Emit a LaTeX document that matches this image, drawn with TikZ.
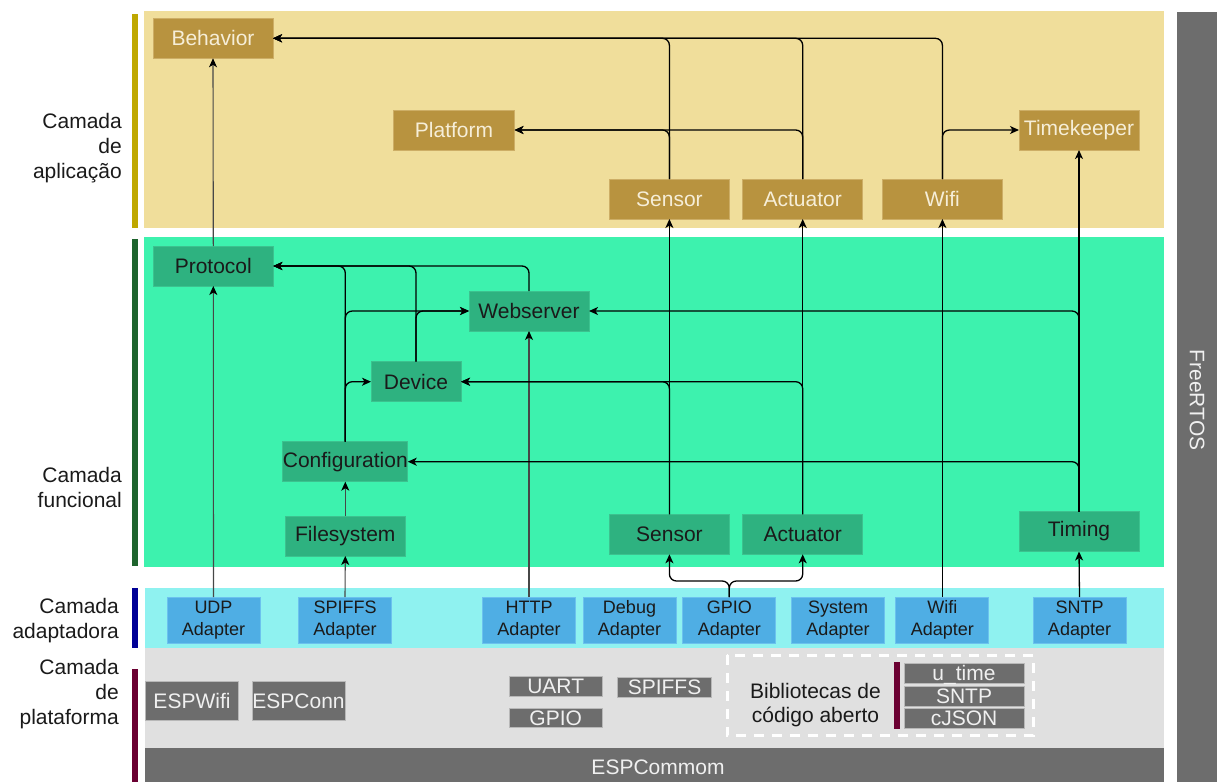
\documentclass[tikz,border=0pt]{standalone}
\usepackage{fontspec}
\setmainfont{Liberation Sans}
\usetikzlibrary{arrows.meta}

\definecolor{appbg}{HTML}{F0DE9B}
\definecolor{appbox}{HTML}{B8933F}
\definecolor{appline}{HTML}{CDAE66}
\definecolor{apptext}{HTML}{F6EED8}
\definecolor{funcbg}{HTML}{3DF2AE}
\definecolor{funcbox}{HTML}{2EB280}
\definecolor{funcline}{HTML}{3CC28F}
\definecolor{adbg}{HTML}{8FF2F0}
\definecolor{adbox}{HTML}{4FAEE4}
\definecolor{adline}{HTML}{6CC2EE}
\definecolor{platbg}{HTML}{E0E0E0}
\definecolor{platdark}{HTML}{6D6D6D}
\definecolor{platline}{HTML}{B8B8B8}
\definecolor{lighttext}{HTML}{F0F0F0}
\definecolor{darktext}{HTML}{1A1A1A}
\definecolor{barapp}{HTML}{BFA800}
\definecolor{barfunc}{HTML}{1E642D}
\definecolor{barad}{HTML}{000096}
\definecolor{barplat}{HTML}{6B0032}

\tikzset{
  box/.style={rectangle, inner sep=0pt, outer sep=0pt, line width=1pt,
    font=\fontsize{21}{25}\selectfont},
  appnode/.style={box, fill=appbox, draw=appline, text=apptext,
    minimum width=120, minimum height=40},
  funcnode/.style={box, fill=funcbox, draw=funcline, text=darktext,
    minimum width=120, minimum height=40},
  adnode/.style={box, fill=adbox, draw=adline, text=darktext, align=center,
    minimum width=93, minimum height=46, font=\fontsize{18}{22}\selectfont},
  platnode/.style={box, fill=platdark, draw=platline, text=lighttext},
  layerlabel/.style={anchor=east, align=right, text=darktext, inner sep=0pt,
    font=\fontsize{21}{25}\selectfont},
  conn/.style={draw=black, line width=1.3pt, rounded corners=7pt,
    -{Stealth[length=9pt,width=8pt,inset=2.5pt]}},
  thinconn/.style={conn, draw=black!72, line width=1.1pt,
    -{Stealth[length=9pt,width=8pt,inset=2.5pt,color=black]}}
}

\begin{document}
\begin{tikzpicture}[x=1pt,y=-1pt]
\useasboundingbox (0,0) rectangle (1217,782);

% ---- layer backgrounds ----
\fill[appbg]  (144,11)  rectangle (1164,228);
\fill[funcbg] (144,237) rectangle (1164,567);
\fill[adbg]   (145,588) rectangle (1164,648);
\fill[platbg] (145,648) rectangle (1164,748);
\fill[platdark] (1177,12) rectangle (1217,782);

% ---- coloured bars beside the layer names ----
\fill[barapp]  (132,14)  rectangle (137.5,228);
\fill[barfunc] (132,239) rectangle (137.5,566);
\fill[barad]   (132,588) rectangle (137.5,648);
\fill[barplat] (132,669) rectangle (137.5,782);

% ---- layer names ----
\node[layerlabel] (lapp)  at (122,148)   {Camada\\de\\aplicação};
\node[layerlabel] (lfunc) at (122,487.5) {Camada\\funcional};
\node[layerlabel] (lad)   at (119,620.5) {Camada\\adaptadora};
\node[layerlabel] (lplat) at (119,694)   {Camada\\de\\plataforma};

\node[rotate=-90, text=lighttext, font=\fontsize{21}{25}\selectfont] (freertos) at (1197,400) {FreeRTOS};

% ---- application layer ----
\node[appnode] (behavior)   at (213,38.3)  {Behavior};
\node[appnode, minimum width=121] (platform) at (454,130) {Platform};
\node[appnode] (sensA)      at (669.4,199) {Sensor};
\node[appnode] (actA)       at (802.7,199) {Actuator};
\node[appnode] (wifiA)      at (942.4,199) {Wifi};
\node[appnode] (timekeeper) at (1079,130)  {Timekeeper};

% ---- functional layer ----
\node[funcnode] (protocol)   at (213.3,266)   {Protocol};
\node[funcnode] (webserver)  at (529,311)     {Webserver};
\node[funcnode, minimum width=90] (device) at (416,381.7) {Device};
\node[funcnode] (config)     at (345.3,461.7) {Configuration};
\node[funcnode] (filesystem) at (345.3,536)   {Filesystem};
\node[funcnode] (sensF)      at (669.4,534.3) {Sensor};
\node[funcnode] (actF)       at (802.7,534.3) {Actuator};
\node[funcnode] (timing)     at (1079,531.5)  {Timing};

% ---- adapter layer ----
\node[adnode] (udp)     at (213.5,620) {UDP\\Adapter};
\node[adnode] (spiffsA) at (345,620)   {SPIFFS\\Adapter};
\node[adnode] (http)    at (529,620)   {HTTP\\Adapter};
\node[adnode] (debug)   at (629.5,620) {Debug\\Adapter};
\node[adnode] (gpioA)   at (729.3,620) {GPIO\\Adapter};
\node[adnode] (system)  at (838,620)   {System\\Adapter};
\node[adnode] (wifiAd)  at (942.4,620) {Wifi\\Adapter};
\node[adnode] (sntpA)   at (1079.5,620) {SNTP\\Adapter};

% ---- platform layer ----
\node[platnode, minimum width=93, minimum height=39] (espwifi) at (192,701.3)   {ESPWifi};
\node[platnode, minimum width=93, minimum height=39] (espconn) at (298.5,701.3) {ESPConn};
\node[platnode, minimum width=93, minimum height=19.5] (uart)  at (555.7,686.3) {UART};
\node[platnode, minimum width=93, minimum height=19.5] (gpioP) at (555.7,718)   {GPIO};
\node[platnode, minimum width=94, minimum height=19.5] (spiffsP) at (664.5,687.5) {SPIFFS};

\draw[white, line width=3pt, dash pattern=on 10pt off 8pt]
  (727,655) rectangle (1033.5,735.7);
\node[align=center, text=darktext, inner sep=0pt,
  font=\fontsize{21}{24}\selectfont] (libs) at (815.5,705) {Bibliotecas de\\código aberto};
\fill[barplat] (894.4,662.3) rectangle (900,729);
\node[platnode, minimum width=120, minimum height=20, text height=15pt, text depth=0pt] (utime) at (964,673.3) {u\_time};
\node[platnode, minimum width=120, minimum height=20] (sntpL) at (964,696)   {SNTP};
\node[platnode, minimum width=120, minimum height=20] (cjson) at (964,718.7) {cJSON};

\fill[platdark] (145,748) rectangle (1164,782);
\node[text=lighttext, font=\fontsize{21}{25}\selectfont] (espcommon) at (658,767) {ESPCommom};

% ---- connectors: adapter layer upwards ----
\draw[thinconn] (udp.north) -- (protocol.south);
\draw[thinconn] (protocol.north) -- (behavior.south);
\draw[thinconn] (spiffsA.north) -- (filesystem.south);
\draw[thinconn] (filesystem.north) -- (config.south);
\draw[thinconn] (http.north) -- (webserver.south);
\coordinate (gsplit) at (729.3,581);
\draw[conn] (gpioA.north) -- (gsplit) -| (sensF.south);
\draw[conn] (gpioA.north) -- (gsplit) -| (actF.south);
\draw[conn] (wifiAd.north) -- (wifiA.south);
\draw[conn] (sntpA.north) -- (timing.south);

% ---- functional layer ----
\draw[conn] (timing.north) -- (timekeeper.south);
\draw[conn] (timing.north) |- (webserver.east);
\draw[conn] (timing.north) |- (config.east);
\draw[conn] (sensF.north) -- (sensA.south);
\draw[conn] (sensF.north) |- (device.east);
\draw[conn] (actF.north) -- (actA.south);
\draw[conn] (actF.north) |- (device.east);
\draw[conn] (config.north) |- (protocol.east);
\draw[conn] (config.north) |- (webserver.west);
\draw[conn] (config.north) |- (device.west);
\draw[conn] (device.north) |- (protocol.east);
\draw[conn] (device.north) |- (webserver.west);
\draw[conn] (webserver.north) |- (protocol.east);

% ---- application layer ----
\draw[conn] (sensA.north) |- (behavior.east);
\draw[conn] (actA.north) |- (behavior.east);
\draw[conn] (wifiA.north) |- (behavior.east);
\draw[conn] (sensA.north) |- (platform.east);
\draw[conn] (actA.north) |- (platform.east);
\draw[conn] (wifiA.north) |- (timekeeper.west);
\end{tikzpicture}
\end{document}
